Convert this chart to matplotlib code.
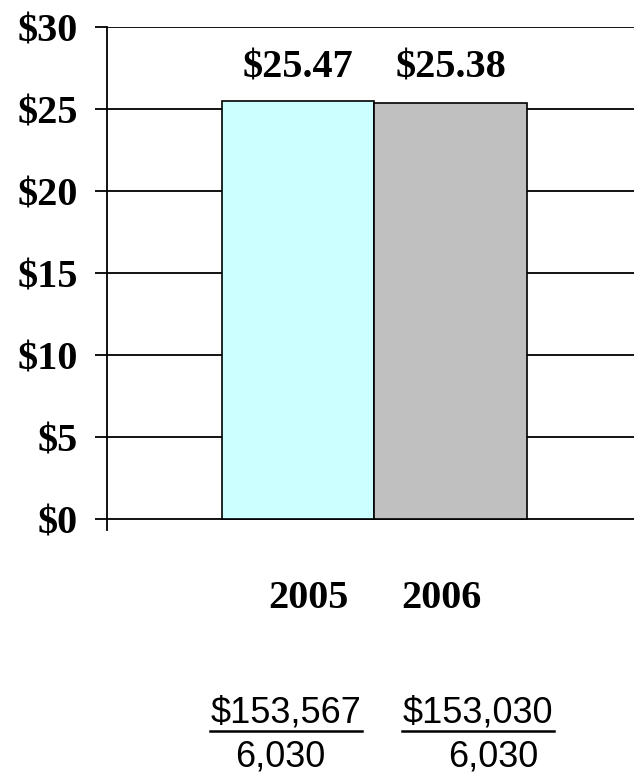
import matplotlib.pyplot as plt
from matplotlib.lines import Line2D

years = ['2005', '2006']
per_unit = [25.47, 25.38]
totals = ['$153,567', '$153,030']
counts = ['6,030', '6,030']
bar_colors = ['#CCFFFF', '#C0C0C0']
yticks = [0, 5, 10, 15, 20, 25, 30]

W, H = 634, 775
fig = plt.figure(figsize=(W / 100, H / 100), dpi=100)
ax = fig.add_axes([107 / W, 1 - 530 / H, 1 - 107 / W, (530 - 27) / H])

xs = list(range(len(years)))
ax.bar(xs, per_unit, width=1.0, color=bar_colors, edgecolor='black', linewidth=1.2, zorder=3)
for y in yticks:
    ax.axhline(y, color='black', lw=1.3, zorder=1)

ax.set_xlim(-1.25, 2.2)
ax.set_ylim(-0.67, 30)
ax.set_yticks(yticks)
ax.set_yticklabels([f'${v}' for v in yticks], family='Liberation Serif',
                   fontweight='bold', fontsize=29)
ax.tick_params(axis='y', length=9, width=1.3, pad=12, direction='out')
ax.set_xticks([])
for s in ['top', 'right', 'bottom']:
    ax.spines[s].set_visible(False)
ax.spines['left'].set_linewidth(1.3)

for x, v in zip(xs, per_unit):
    ax.text(x, 27.5, f'${v:.2f}', ha='center', va='center', family='Liberation Serif',
            fontweight='bold', fontsize=29)

# labels under the chart, placed in figure pixels
year_x = [308, 441]
tot_x = [286, 478]
cnt_x = [280, 493]
for i in range(len(years)):
    fig.text(year_x[i] / W, 1 - 599 / H, years[i], ha='center', va='center',
             family='Liberation Serif', fontweight='bold', fontsize=29)
    t = fig.text(tot_x[i] / W, 1 - 713 / H, totals[i], ha='center', va='center',
                 family='Liberation Sans', fontsize=26)
    fig.add_artist(Line2D([(tot_x[i] - 76) / W, (tot_x[i] + 76) / W],
                          [1 - 731 / H, 1 - 731 / H], color='black', lw=1.8))
    fig.text(cnt_x[i] / W, 1 - 757 / H, counts[i], ha='center', va='center',
             family='Liberation Sans', fontsize=26)

fig.savefig('out.png', dpi=100)
